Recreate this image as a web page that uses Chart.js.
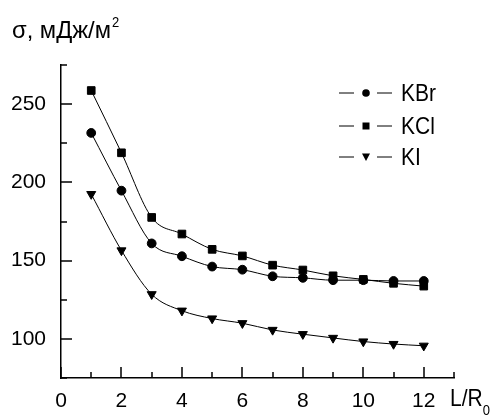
<!DOCTYPE html>
<html>
<head>
<meta charset="utf-8">
<script src="https://cdn.jsdelivr.net/npm/chart.js@4"></script>
<style>
  html, body { margin: 0; padding: 0; background: #fff; }
  #wrap { width: 496px; height: 416px; }
</style>
</head>
<body>
<div id="wrap"><canvas id="chart" width="496" height="416"></canvas></div>
<script>
// data
const xValues = [1, 2, 3, 4, 5, 6, 7, 8, 9, 10, 11, 12];
const kbr = [231.6, 194.7, 161, 152.8, 146.2, 144.2, 140, 139, 137.5, 137.5, 137, 137];
const kcl = [258.7, 218.9, 177.6, 167, 157.2, 153, 147.1, 144, 140.3, 138, 135.5, 133.7];
const ki = [192.5, 156.5, 128.5, 118, 113, 110, 105.7, 103, 100.6, 98.3, 96.7, 95.6];
const seriesNames = ['KBr', 'KCl', 'KI'];
const seriesMarkers = ['circle', 'rect', 'triangle'];
const xLabels = [0, 2, 4, 6, 8, 10, 12];
const yLabels = [100, 150, 200, 250];

const FONT = 'Liberation Sans, Arial, sans-serif';

function toPoints(ys) {
    return xValues.map((x, i) => ({ x: x, y: ys[i] }));
}

function makeSet(label, ys, style) {
    let r = 4.4;
    if (style === 'rect') r = 5.4;
    if (style === 'triangle') r = 5.2;
    return {
        label: label,
        data: toPoints(ys),
        borderColor: '#000',
        backgroundColor: '#000',
        borderWidth: 1,
        pointStyle: style,
        pointRadius: r,
        pointRotation: style === 'triangle' ? 180 : 0,
        cubicInterpolationMode: 'monotone',
        fill: false
    };
}

// text slightly stretched, like in the scan
function tallText(ctx, str, x, y, size, sx = 1) {
    ctx.save();
    ctx.font = size + 'px ' + FONT;
    ctx.translate(x, y);
    ctx.scale(sx, 1.15);
    ctx.fillText(str, 0, 0);
    const w = ctx.measureText(str).width * sx;
    ctx.restore();
    return w;
}

// ticks pointing inward + texts around the plot
const extras = {
    id: 'extras',
    afterDraw(chart) {
        const ctx = chart.ctx;
        const xs = chart.scales.x;
        const ys = chart.scales.y;
        const area = chart.chartArea;
        ctx.save();
        ctx.strokeStyle = '#000';
        ctx.lineWidth = 1.5;
        ctx.beginPath();
        for (let v = 0; v <= 13; v++) {
            const px = Math.round(xs.getPixelForValue(v));
            const len = xLabels.includes(v) ? 11 : 6;
            ctx.moveTo(px, area.bottom);
            ctx.lineTo(px, area.bottom - len);
        }
        for (let v = 75; v <= 275; v += 25) {
            const py = Math.round(ys.getPixelForValue(v));
            const len = yLabels.includes(v) ? 11 : 6;
            ctx.moveTo(area.left, py);
            ctx.lineTo(area.left + len, py);
        }
        ctx.stroke();

        ctx.fillStyle = '#000';
        ctx.textBaseline = 'alphabetic';
        ctx.textAlign = 'left';
        // y title
        const w = tallText(ctx, 'σ, мДж/м', 12, 38, 21, 1.13);
        tallText(ctx, '2', 12 + w + 1, 27, 13);
        // x title
        const w2 = tallText(ctx, 'L/R', 450, 406, 21);
        tallText(ctx, '0', 450 + w2, 415, 13);

        // legend
        const rows = [93, 126, 157];
        seriesNames.forEach((name, i) => {
            const y = rows[i];
            ctx.lineWidth = 1;
            ctx.beginPath();
            ctx.moveTo(339, y);
            ctx.lineTo(354, y);
            ctx.moveTo(377, y);
            ctx.lineTo(392, y);
            ctx.stroke();
            ctx.beginPath();
            if (seriesMarkers[i] === 'circle') {
                ctx.arc(366, y, 3.8, 0, Math.PI * 2);
            } else if (seriesMarkers[i] === 'rect') {
                ctx.rect(362.5, y - 3.5, 7, 7);
            } else {
                ctx.moveTo(362, y - 3.5);
                ctx.lineTo(370, y - 3.5);
                ctx.lineTo(366, y + 4);
                ctx.closePath();
            }
            ctx.fill();
            tallText(ctx, name, 401, y + 8, 21);
        });
        ctx.restore();
    }
};

new Chart(document.getElementById('chart'), {
    type: 'line',
    data: {
        datasets: [
            makeSet('KBr', kbr, 'circle'),
            makeSet('KCl', kcl, 'rect'),
            makeSet('KI', ki, 'triangle')
        ]
    },
    options: {
        responsive: false,
        animation: false,
        layout: { padding: { top: 65, right: 42, left: 0, bottom: 0 } },
        plugins: { legend: { display: false }, tooltip: { enabled: false } },
        scales: {
            x: {
                type: 'linear',
                min: 0,
                max: 13,
                grid: { display: false, drawTicks: false },
                border: { display: true, color: '#000', width: 1.5 },
                ticks: {
                    stepSize: 1,
                    autoSkip: false,
                    maxRotation: 0,
                    padding: 11,
                    color: '#000',
                    font: { family: FONT, size: 21 },
                    callback: v => xLabels.includes(v) ? String(v) : ''
                },
                afterFit: s => { s.height = 38; }
            },
            y: {
                min: 75,
                max: 275,
                grid: { display: false, drawTicks: false },
                border: { display: true, color: '#000', width: 1.5 },
                ticks: {
                    stepSize: 25,
                    autoSkip: false,
                    padding: 15,
                    color: '#000',
                    font: { family: FONT, size: 21 },
                    callback: v => yLabels.includes(v) ? String(v) : ''
                },
                afterFit: s => { s.width = 61; }
            }
        }
    },
    plugins: [extras]
});
</script>
</body>
</html>
